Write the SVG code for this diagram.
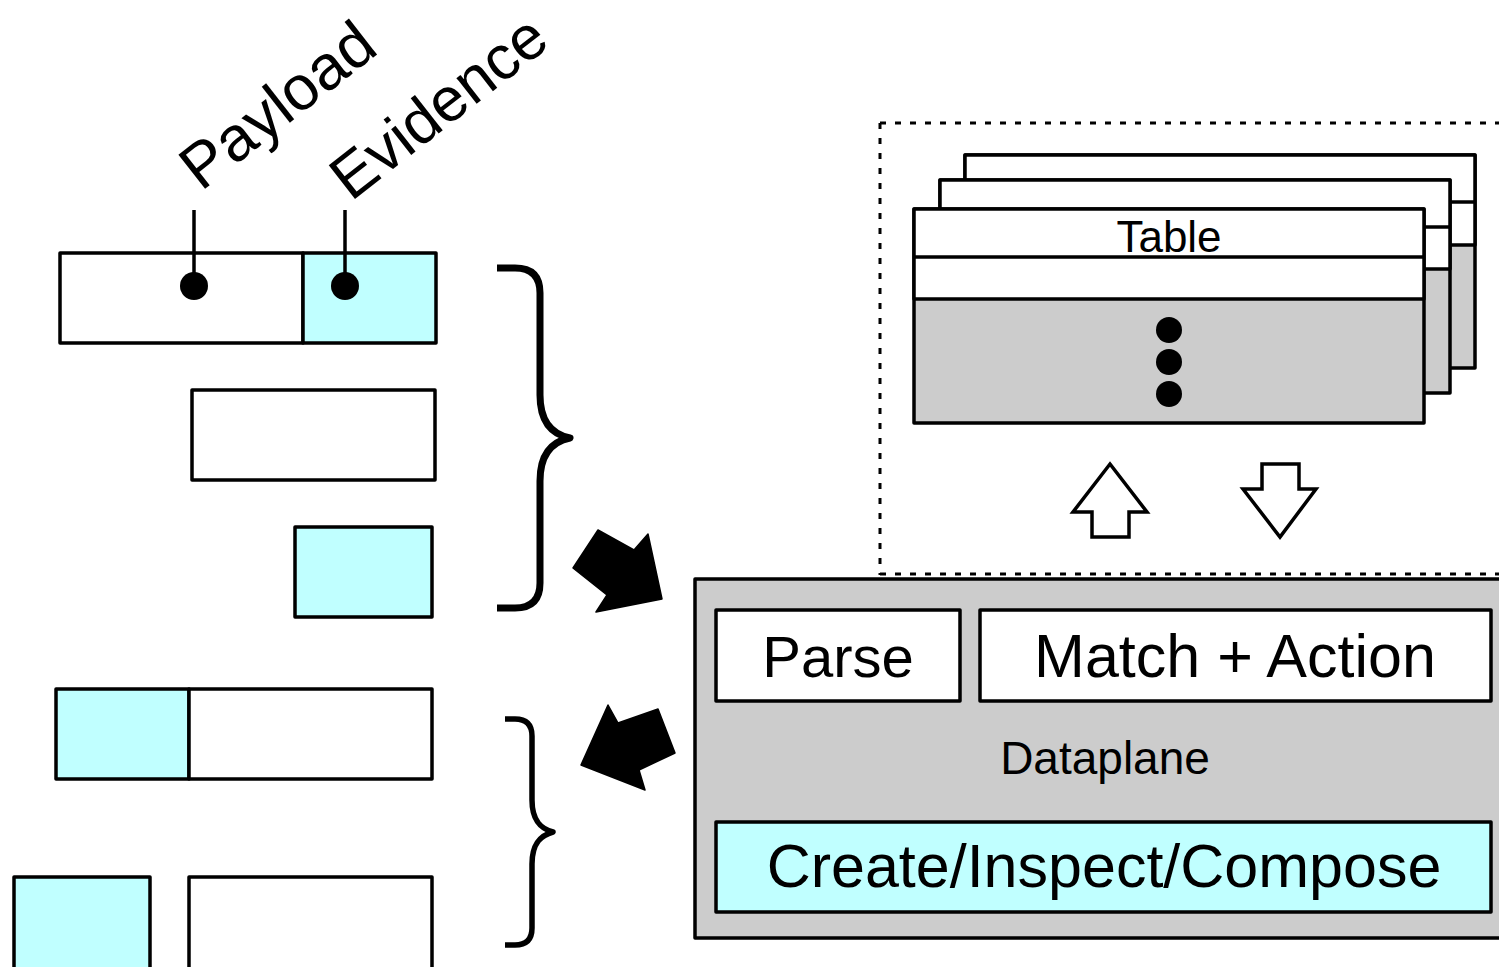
<svg xmlns="http://www.w3.org/2000/svg" width="1499" height="967" viewBox="0 0 1499 967">
  <style>
    .box { stroke: #000; stroke-width: 3.5; stroke-linejoin: round; }
    .white { fill: #ffffff; }
    .cyan { fill: #c0ffff; }
    .gray { fill: #cccccc; }
    .line { stroke: #000; stroke-width: 3.5; fill: none; }
    .brace { stroke: #000; fill: none; stroke-linecap: butt; stroke-linejoin: round; }
    .label { font-family: "Liberation Sans", Arial, sans-serif; fill: #000; }
    .dotted { stroke: #000; stroke-width: 3; stroke-dasharray: 6 9; fill: none; }
    .hollow { fill: #fff; stroke: #000; stroke-width: 3.5; stroke-linejoin: miter; }
  </style>

  <rect width="1499" height="967" fill="#ffffff"/>

  <!-- Packet field labels -->
  <g id="labels">
    <text class="label" font-size="63" transform="translate(201,192) rotate(-38)">Payload</text>
    <text class="label" font-size="62" transform="translate(351,202) rotate(-38)">Evidence</text>
  </g>

  <!-- Incoming packet formats -->
  <g id="packet-full">
    <rect class="box white" x="60" y="253" width="243" height="90"/>
    <rect class="box cyan" x="303" y="253" width="133" height="90"/>
    <line class="line" x1="194" y1="210" x2="194" y2="286"/>
    <line class="line" x1="345" y1="210" x2="345" y2="286"/>
    <circle cx="194" cy="286" r="14" fill="#000"/>
    <circle cx="345" cy="286" r="14" fill="#000"/>
  </g>
  <g id="packet-payload">
    <rect class="box white" x="192" y="390" width="243" height="90"/>
  </g>
  <g id="packet-evidence">
    <rect class="box cyan" x="295" y="527" width="137" height="90"/>
  </g>

  <!-- Outgoing packet formats -->
  <g id="packet-out-joined">
    <rect class="box cyan" x="56" y="689" width="133" height="90"/>
    <rect class="box white" x="189" y="689" width="243" height="90"/>
  </g>
  <g id="packet-out-split">
    <rect class="box cyan" x="14" y="877" width="136" height="92"/>
    <rect class="box white" x="189" y="877" width="243" height="92"/>
  </g>

  <!-- Control plane: stack of tables -->
  <g id="tables">
    <path class="dotted" d="M880,123 H1499 M880,123 V575 M880,574 H1499"/>
    <g id="table-back">
      <rect class="box gray" x="965" y="155" width="510" height="213"/>
      <rect class="box white" x="965" y="155" width="510" height="90"/>
      <line class="line" x1="965" y1="202" x2="1475" y2="202"/>
    </g>
    <g id="table-middle">
      <rect class="box gray" x="940" y="180" width="510" height="213"/>
      <rect class="box white" x="940" y="180" width="510" height="89"/>
      <line class="line" x1="940" y1="227" x2="1450" y2="227"/>
    </g>
    <g id="table-front">
      <rect class="box gray" x="914" y="209" width="510" height="214"/>
      <rect class="box white" x="914" y="209" width="510" height="90"/>
      <line class="line" x1="914" y1="257" x2="1424" y2="257"/>
      <text class="label" font-size="44" x="1169" y="252" text-anchor="middle">Table</text>
      <circle cx="1169" cy="330" r="13" fill="#000"/>
      <circle cx="1169" cy="362" r="13" fill="#000"/>
      <circle cx="1169" cy="394" r="13" fill="#000"/>
    </g>
  </g>

  <!-- Dataplane -->
  <g id="dataplane">
    <rect class="box gray" x="695" y="579" width="820" height="359"/>
    <rect class="box white" x="716" y="610" width="244" height="91"/>
    <text class="label" font-size="58" x="838" y="677" text-anchor="middle">Parse</text>
    <rect class="box white" x="980" y="610" width="511" height="91"/>
    <text class="label" font-size="61" x="1235" y="677" text-anchor="middle">Match + Action</text>
    <text class="label" font-size="46" x="1105" y="774" text-anchor="middle">Dataplane</text>
    <rect class="box cyan" x="716" y="822" width="775" height="90"/>
    <text class="label" font-size="61" x="1104" y="887" text-anchor="middle">Create/Inspect/Compose</text>
  </g>

  <!-- Connectors -->
  <g id="connectors">
    <path class="brace" stroke-width="7" d="M497,268 H515 Q540,268 540,293 V395 C540,425 555,435 570,438 C555,441 540,451 540,481 V583 Q540,608 515,608 H497"/>
    <path class="brace" stroke-width="5.5" d="M505,719 H515 Q532,719 532,736 V800 C532,822 542,829 553,832 C542,835 532,842 532,864 V928 Q532,945 515,945 H505"/>
    <polygon fill="#000" stroke="#000" stroke-width="1.5" stroke-linejoin="round" points="598,530 634,550 648,534 662,599 596,612 607,595 573,568"/>
    <polygon fill="#000" stroke="#000" stroke-width="1.5" stroke-linejoin="round" points="658,709 675,753 639,770 645,790 581,765 608,705 618,723"/>
    <polygon class="hollow" points="1110,464 1147,512 1129,512 1129,537 1092,537 1092,512 1073,512"/>
    <polygon class="hollow" points="1262,464 1299,464 1299,489 1316,489 1280,537 1243,489 1262,489"/>
  </g>
</svg>
